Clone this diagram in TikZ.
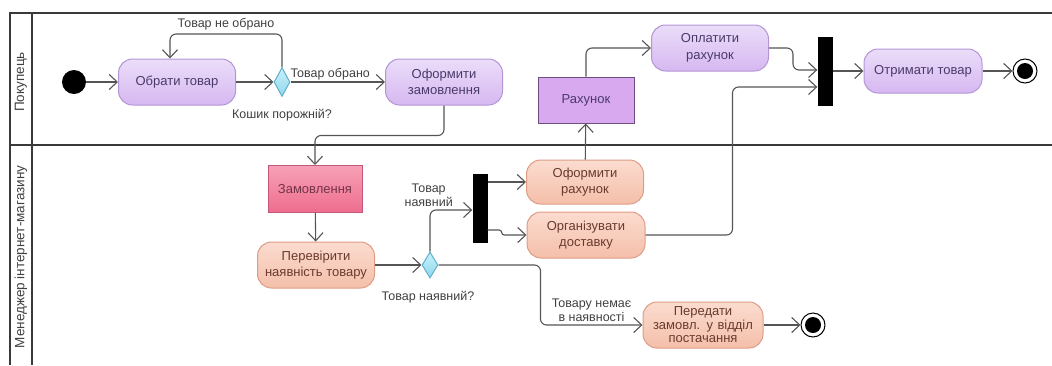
\documentclass[tikz,border=0pt]{standalone}
\usepackage{fontspec}
\setmainfont{Liberation Sans}
\usetikzlibrary{arrows.meta,shapes.geometric,positioning}

\definecolor{linegray}{HTML}{555555}
\definecolor{lanegray}{HTML}{3A3A3A}
\definecolor{purtop}{HTML}{EBDDF9}
\definecolor{purbot}{HTML}{D6B8F1}
\definecolor{purline}{HTML}{B395D6}
\definecolor{purtext}{HTML}{4A3A6A}
\definecolor{salmtop}{HTML}{FBDCCF}
\definecolor{salmbot}{HTML}{F4BFAA}
\definecolor{salmline}{HTML}{DE9C86}
\definecolor{salmtext}{HTML}{6A3A2E}
\definecolor{billfill}{HTML}{D9A9F0}
\definecolor{billline}{HTML}{6E4E7E}
\definecolor{ordtop}{HTML}{F7A1B7}
\definecolor{ordbot}{HTML}{EE6D8E}
\definecolor{ordline}{HTML}{C2577A}
\definecolor{dectop}{HTML}{C9F0FB}
\definecolor{decbot}{HTML}{8FD8EE}
\definecolor{decline}{HTML}{5FAFCB}

\tikzset{
  lane/.style={draw=lanegray, line width=2pt},
  flow/.style={draw=linegray, line width=1.1pt, rounded corners=6pt,
    -{Straight Barb[length=8pt,width=15pt,line width=1.1pt]}},
  action/.style={rectangle, rounded corners=14pt, draw=purline, line width=1pt,
    top color=purtop, bottom color=purbot, text=purtext, align=center,
    minimum width=117pt, minimum height=46pt, inner sep=2pt},
  mgraction/.style={action, draw=salmline, top color=salmtop, bottom color=salmbot,
    text=salmtext},
  billbox/.style={rectangle, draw=billline, line width=1pt, fill=billfill,
    text=purtext, minimum width=96pt, minimum height=46pt},
  orderbox/.style={rectangle, draw=ordline, line width=1pt, top color=ordtop,
    bottom color=ordbot, text=ordline!60!black, minimum width=94pt, minimum height=47pt},
  decision/.style={diamond, draw=decline, line width=1pt, top color=dectop,
    bottom color=decbot, minimum width=16pt, minimum height=29pt, inner sep=0pt},
  syncbar/.style={rectangle, fill=black, minimum width=15pt, minimum height=69pt,
    inner sep=0pt},
  startnode/.style={circle, fill=black, minimum size=24pt, inner sep=0pt},
  endnode/.style={circle, draw=black, line width=1pt, fill=white, minimum size=24pt,
    inner sep=0pt, path picture={\fill[black] (path picture bounding box.center) circle (8pt);}},
  lbl/.style={text=black!75, font=\fontsize{12.5}{14}\selectfont, align=center},
}

\begin{document}
\begin{tikzpicture}[x=1pt, y=-1pt, font=\fontsize{13}{16.5}\selectfont]
\useasboundingbox (0,0) rectangle (1052,365);

% swimlanes
\draw[lane] (1052,13) -- (10,13) -- (10,365);
\draw[lane] (32,13) -- (32,365);
\draw[lane] (10,145) -- (1052,145);
\node[rotate=90, lbl, font=\fontsize{13.5}{15}\selectfont] (buyer) at (21,82) {Покупець};
\node[rotate=90, lbl, font=\fontsize{13.5}{15}\selectfont] (manager) at (21,257) {Менеджер інтернет-магазину};

% buyer lane
\node[startnode] (init) at (74,82) {};
\node[action] (choose) at (177,82) {Обрати товар};
\node[decision] (dec1) at (282,82) {};
\node[action] (order) at (444,82) {Оформити\\замовлення};
\node[billbox] (bill) at (586,100) {Рахунок};
\node[action] (pay) at (710,48) {Оплатити\\рахунок};
\node[syncbar] (bar1) at (825,71) {};
\node[action, minimum width=118pt, minimum height=44pt] (get) at (923,71) {Отримати товар};
\node[endnode] (end1) at (1025,71) {};

% manager lane
\node[orderbox] (ordobj) at (315,189) {Замовлення};
\node[mgraction] (check) at (316,265) {Перевірити\\наявність товару};
\node[decision, minimum height=26pt] (dec2) at (430,265) {};
\node[syncbar] (bar2) at (480,208) {};
\node[mgraction, minimum height=44pt] (inv) at (585,182) {Оформити\\рахунок};
\node[mgraction, minimum width=118pt] (deliv) at (586,235) {Організувати\\доставку};
\node[mgraction, minimum width=120pt, text width=114pt] (pass) at (703,325)
  {Передати\\[-3pt]замовл. у відділ\\[-3pt]постачання};
\node[endnode] (end2) at (813,325) {};

% labels
\node[lbl] (q1) at (282,115) {Кошик порожній?};
\node[lbl] (q2) at (428,297) {Товар наявний?};

% flows
\draw[flow] (init) -- (choose);
\draw[flow] (choose) -- (dec1);
\draw[flow] (dec1.north) -- ++(0,-33) -| ([xshift=-7pt]choose.north)
  node[lbl, pos=0.25, above] {Товар не обрано};
\draw[flow] (dec1) -- (order) node[lbl, pos=0.42, above=-2pt] {Товар обрано};
\draw[flow] (order.south) -- ++(0,30) -| (ordobj.north);
\draw[flow] (ordobj) -- (check);
\draw[flow] (check) -- (dec2);
\draw[flow] (dec2.north) |- ([yshift=-2pt]bar2.west)
  node[lbl, pos=0.72, above left=0pt and -8pt] {Товар\\наявний};
\draw[flow] (bar2.east |- inv.west) -- (inv.west);
\draw[flow, rounded corners=2.5pt] ([yshift=-22pt]bar2.east) -- ++(14,0) |- (deliv.west);
\draw[flow] (dec2.east) -- ++(102,0) |- (pass.west)
  node[lbl, pos=0.75, above] {Товару немає\\в наявності};
\draw[flow] (inv) -- (bill);
\draw[flow] (bill.north) |- (pay.west);
\draw[flow] (pay.east) -- ++(24,0) |- ([yshift=1pt]bar1.west);
\draw[flow] (deliv.east) -- ++(87,0) |- ([yshift=-16pt]bar1.west);
\draw[flow] (bar1) -- (get);
\draw[flow] (get) -- (end1);
\draw[flow] (pass) -- (end2);
\end{tikzpicture}
\end{document}
